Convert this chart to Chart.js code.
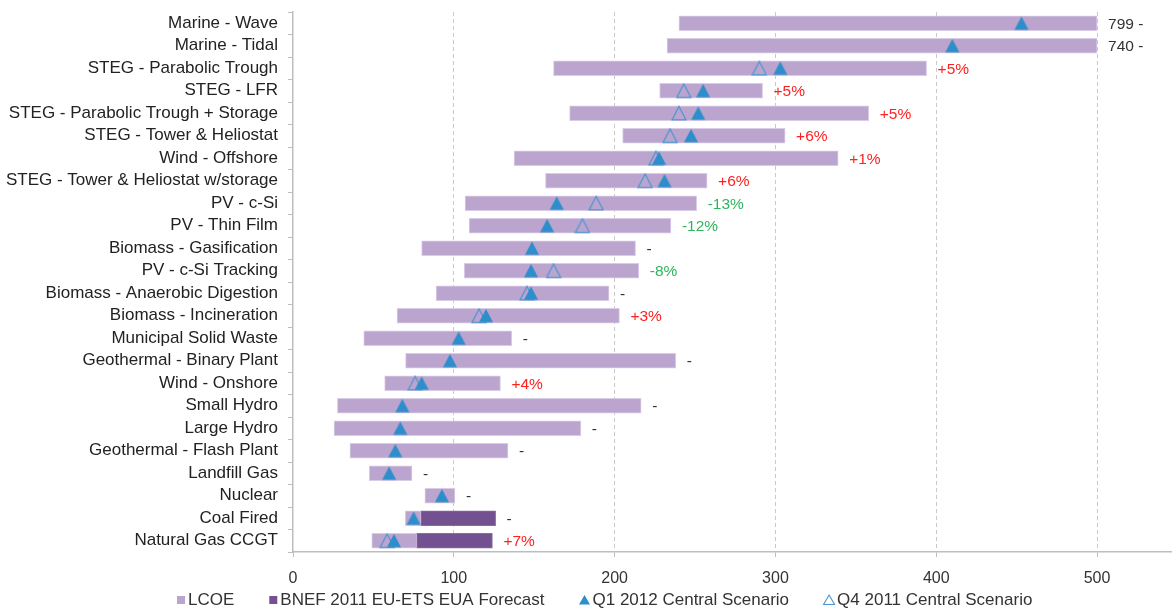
<!DOCTYPE html>
<html><head><meta charset="utf-8">
<script src="https://cdn.jsdelivr.net/npm/chart.js@4.4.1/dist/chart.umd.min.js"></script>
<style>html,body{margin:0;padding:0;background:#fff;overflow:hidden}#wrap{width:1172px;height:612px;position:relative}</style>
</head><body><div id="wrap"><canvas id="c" width="1172" height="612"></canvas></div>
<script>
const categories = ['Marine - Wave','Marine - Tidal','STEG - Parabolic Trough','STEG - LFR','STEG - Parabolic Trough + Storage','STEG - Tower & Heliostat','Wind - Offshore','STEG - Tower & Heliostat w/storage','PV - c-Si','PV - Thin Film','Biomass - Gasification','PV - c-Si Tracking','Biomass - Anaerobic Digestion','Biomass - Incineration','Municipal Solid Waste','Geothermal - Binary Plant','Wind - Onshore','Small Hydro','Large Hydro','Geothermal - Flash Plant','Landfill Gas','Nuclear','Coal Fired','Natural Gas CCGT'];
const lcoeLow  = [240,232.6,162,228,172,205,137.5,157,107,109.5,80,106.5,89,64.7,44,70,57,27.6,25.5,35.4,47.4,82,69.8,49];
const lcoeHigh = [500,500,394,292,358,306,339,257.5,251,235,213,215,196.5,203,136,238,129,216.5,179,133.7,74,100.7,79.6,77];
const euaLow   = [null,null,null,null,null,null,null,null,null,null,null,null,null,null,null,null,null,null,null,null,null,null,79.6,77];
const euaHigh  = [null,null,null,null,null,null,null,null,null,null,null,null,null,null,null,null,null,null,null,null,null,null,126,124];
const q1 = [453,410,303,255,252,247.5,227.6,231,164,158,148.6,148,148,120,103,97.6,80,68,66.7,63.6,59.8,92.6,75,62.8];
const q4 = [null,null,290,243,240,234.5,225.7,219,188.5,180,null,162,145.5,115.7,null,null,76,null,null,null,null,null,null,58.5];
const endLabels = ['799 -','740 -','+5%','+5%','+5%','+6%','+1%','+6%','-13%','-12%','-','-8%','-','+3%','-','-','+4%','-','-','-','-','-','-','+7%'];
const seriesNames = ['LCOE','BNEF 2011 EU-ETS EUA Forecast','Q1 2012 Central Scenario','Q4 2011 Central Scenario'];
const xTicks = [0,100,200,300,400,500];

const FONT = "'Liberation Sans', Arial, sans-serif";
const C_LIGHT = '#bba5ce', C_DARK = '#735190', C_BLUE = '#2e8dcb', C_BLUE2 = '#4d95d3';
Chart.defaults.font.family = FONT;
Chart.defaults.font.size = 16;
Chart.defaults.color = '#333';

function triMarker(filled) {
  const cv = document.createElement('canvas');
  cv.width = 16; cv.height = 16;
  const g = cv.getContext('2d');
  g.beginPath();
  g.moveTo(8, 1.2);
  g.lineTo(15, 14.6);
  g.lineTo(1, 14.6);
  g.closePath();
  if (filled) { g.fillStyle = C_BLUE; g.fill(); }
  else { g.strokeStyle = C_BLUE2; g.lineWidth = 1.2; g.stroke(); }
  return cv;
}
const triFilled = triMarker(true), triOpen = triMarker(false);

const endLabelPlugin = {
  id: 'endLabels',
  afterDatasetsDraw(chart) {
    const ctx = chart.ctx;
    const m0 = chart.getDatasetMeta(0), m1 = chart.getDatasetMeta(1);
    ctx.save();
    ctx.font = '15.5px ' + FONT;
    ctx.textBaseline = 'middle';
    ctx.textAlign = 'left';
    endLabels.forEach((t, i) => {
      const e = m0.data[i];
      let xe = Math.max(e.x, e.base);
      const d = m1.data[i];
      if (euaHigh[i] != null && d) xe = Math.max(xe, d.x, d.base);
      let col = '#333';
      if (t[0] === '+') col = '#ff2020';
      else if (/^-\d/.test(t)) col = '#2db55d';
      ctx.fillStyle = col;
      ctx.fillText(t, xe + 11, e.y + 1);
    });
    ctx.restore();
  }
};

const legendPlugin = {
  id: 'customLegend',
  afterDraw(chart) {
    const ctx = chart.ctx;
    ctx.save();
    ctx.font = '17px ' + FONT;
    ctx.textBaseline = 'middle';
    ctx.textAlign = 'left';
    const y = 600;
    let x = 177;
    seriesNames.forEach((name, i) => {
      if (i < 2) {
        ctx.fillStyle = i === 0 ? C_LIGHT : C_DARK;
        ctx.fillRect(x, y - 4, 8, 8);
        x += 11;
      } else {
        ctx.beginPath();
        ctx.moveTo(x + 5, y - 5);
        ctx.lineTo(x + 10.5, y + 4.5);
        ctx.lineTo(x - 0.5, y + 4.5);
        ctx.closePath();
        if (i === 2) { ctx.fillStyle = C_BLUE; ctx.fill(); }
        else { ctx.strokeStyle = C_BLUE2; ctx.lineWidth = 1.1; ctx.stroke(); }
        x += 13;
      }
      ctx.fillStyle = '#333';
      ctx.fillText(name, x, y);
      x += ctx.measureText(name).width + 35;
    });
    ctx.restore();
  }
};

new Chart(document.getElementById('c'), {
  type: 'bar',
  data: {
    labels: categories,
    datasets: [
      { label: seriesNames[0], data: lcoeLow.map((v, i) => [v, lcoeHigh[i]]), backgroundColor: C_LIGHT, borderColor: '#d9cce6', borderWidth: 1, borderSkipped: false, barThickness: 15, grouped: false, order: 4 },
      { label: seriesNames[1], data: euaLow.map((v, i) => v == null ? null : [v, euaHigh[i]]), backgroundColor: C_DARK, borderColor: '#8a6ba3', borderWidth: 1, borderSkipped: false, barThickness: 15, grouped: false, order: 3 },
      { type: 'line', label: seriesNames[2], data: q1, showLine: false, pointStyle: triFilled, pointRadius: 8, pointHoverRadius: 8, backgroundColor: C_BLUE, borderColor: C_BLUE, borderWidth: 0, order: 1, clip: false },
      { type: 'line', label: seriesNames[3], data: q4, showLine: false, pointStyle: triOpen, pointRadius: 8, pointHoverRadius: 8, backgroundColor: 'rgba(0,0,0,0)', borderColor: C_BLUE2, borderWidth: 1.2, order: 2, clip: false }
    ]
  },
  options: {
    indexAxis: 'y',
    responsive: false,
    animation: false,
    devicePixelRatio: 1,
    layout: { autoPadding: false, padding: { top: 12, bottom: 20, left: 0, right: 0 } },
    plugins: { legend: { display: false }, tooltip: { enabled: false } },
    scales: {
      x: {
        type: 'linear', min: 0, max: 546.6,
        afterBuildTicks(s) { s.ticks = xTicks.map(v => ({ value: v })); },
        afterFit(s) { s.height = 40; s.paddingRight = 0; s.paddingLeft = 0; },
        ticks: { padding: 12, color: '#333', font: { size: 16 } },
        grid: {
          color: c => (c.tick && c.tick.value === 0) ? 'rgba(0,0,0,0)' : '#c9c9c9',
          tickColor: '#bdbdbd', tickLength: 5, lineWidth: 1
        },
        border: { color: '#bdbdbd', width: 1.5, dash: [4, 3] }
      },
      y: {
        type: 'category',
        offset: true,
        afterFit(s) { s.width = 293; s.paddingTop = 0; s.paddingBottom = 0; },
        ticks: { padding: 10, color: '#222', font: { size: 17 }, autoSkip: false },
        grid: { offset: true, drawOnChartArea: false, tickLength: 5, color: '#bdbdbd' },
        border: { color: '#bdbdbd', width: 1.5 }
      }
    }
  },
  plugins: [endLabelPlugin, legendPlugin]
});
</script></body></html>
